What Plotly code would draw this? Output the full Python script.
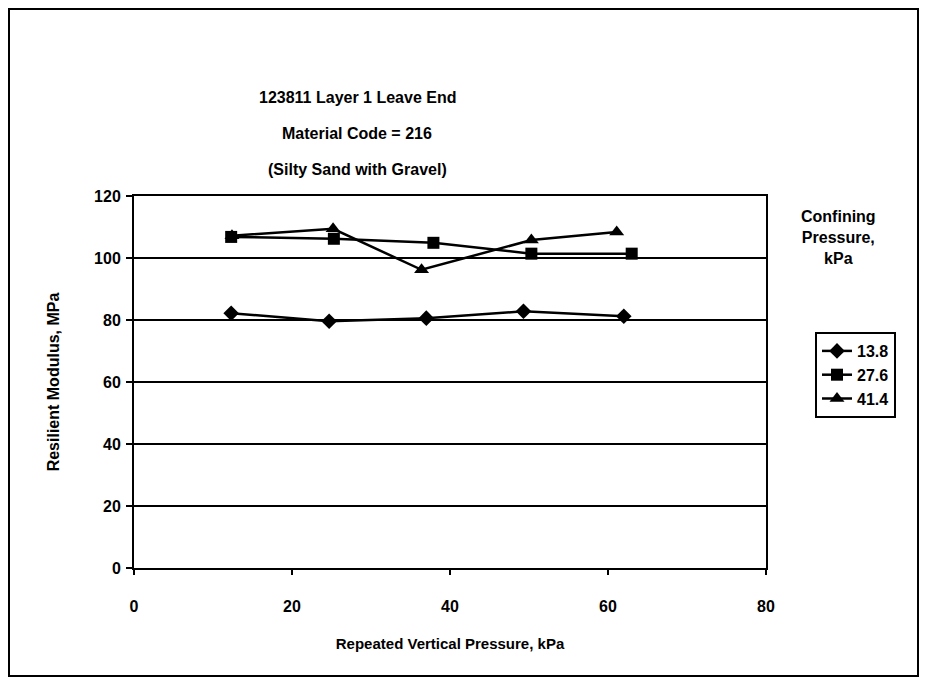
import plotly.graph_objects as go

x_138 = [12.3, 24.7, 37.0, 49.3, 62.0]
y_138 = [82.2, 79.6, 80.6, 82.8, 81.2]
x_276 = [12.3, 25.3, 37.9, 50.3, 63.0]
y_276 = [106.8, 106.2, 104.9, 101.4, 101.4]
x_414 = [12.4, 25.2, 36.4, 50.3, 61.1]
y_414 = [107.2, 109.4, 96.2, 105.8, 108.4]
series_names = ["13.8", "27.6", "41.4"]

FONT = "Liberation Sans, Arial, sans-serif"

fig = go.Figure()
fig.add_trace(go.Scatter(x=x_138, y=y_138, name=series_names[0], mode="lines+markers",
                         line=dict(color="black", width=2.5),
                         marker=dict(symbol="diamond", size=12, color="black")))
fig.add_trace(go.Scatter(x=x_276, y=y_276, name=series_names[1], mode="lines+markers",
                         line=dict(color="black", width=2.5),
                         marker=dict(symbol="square", size=12, color="black")))
fig.add_trace(go.Scatter(x=x_414, y=y_414, name=series_names[2], mode="lines+markers",
                         line=dict(color="black", width=2.5),
                         marker=dict(symbol="triangle-up", size=13, color="black")))

# screen coordinates (page body has an 8px margin)
OFF = 8
L, R, T, B = 134, 766, 196, 568
W, H = 925, 671
pw, ph = R - L, B - T

def px(xp):
    return (xp - L) / pw

def py(yp):
    return (B - yp) / ph

fig.update_layout(
    width=W, height=H,
    margin=dict(l=L - OFF, r=W - (R - OFF), t=T - OFF, b=H - (B - OFF), pad=0),
    paper_bgcolor="white", plot_bgcolor="white",
    font=dict(family=FONT, size=14, color="black"),
    showlegend=True,
    legend=dict(x=px(815), y=py(332), xanchor="left", yanchor="top",
                bordercolor="black", borderwidth=2, bgcolor="white",
                font=dict(family=FONT, size=16, color="black", weight="bold"),
                itemwidth=30, tracegroupgap=0),
    xaxis=dict(range=[0, 80], tickvals=[0, 20, 40, 60, 80], showgrid=False,
               zeroline=False, showline=True, linecolor="black", linewidth=2,
               mirror=True, ticks="outside", ticklen=5, tickwidth=2, tickcolor="black",
               ticklabelstandoff=18,
               tickfont=dict(family=FONT, size=16, weight="bold"),
               title=dict(text="<b>Repeated Vertical Pressure, kPa</b>",
                          font=dict(family=FONT, size=15), standoff=24)),
    yaxis=dict(range=[0, 120], tickvals=[0, 20, 40, 60, 80, 100, 120], showgrid=True,
               gridcolor="black", gridwidth=2, zeroline=False, showline=True,
               linecolor="black", linewidth=2, mirror=True, ticks="outside",
               ticklen=6, tickwidth=2, tickcolor="black",
               ticklabelstandoff=2,
               tickfont=dict(family=FONT, size=16, weight="bold"),
               title=dict(text="<b>Resilient Modulus, MPa</b>",
                          font=dict(family=FONT, size=16), standoff=30)),
)

title_lines = ["123811 Layer 1 Leave End", "Material Code = 216", "(Silty Sand with Gravel)"]
title_y = [97, 134, 169]
for t, yy in zip(title_lines, title_y):
    fig.add_annotation(text="<b>" + t + "</b>", xref="paper", yref="paper",
                       x=px(357), y=py(yy), showarrow=False,
                       font=dict(family=FONT, size=16, color="black"),
                       xanchor="center", yanchor="middle")

fig.add_annotation(text="<b>Confining<br>Pressure,<br>kPa</b>", xref="paper", yref="paper",
                   x=px(838), y=py(237), showarrow=False, align="center",
                   font=dict(family=FONT, size=16, color="black"),
                   xanchor="center", yanchor="middle")

fig.add_shape(type="rect", xref="paper", yref="paper",
              x0=px(9), x1=px(918), y0=py(676), y1=py(9),
              line=dict(color="black", width=2), layer="below")

fig.write_html("out.html")
